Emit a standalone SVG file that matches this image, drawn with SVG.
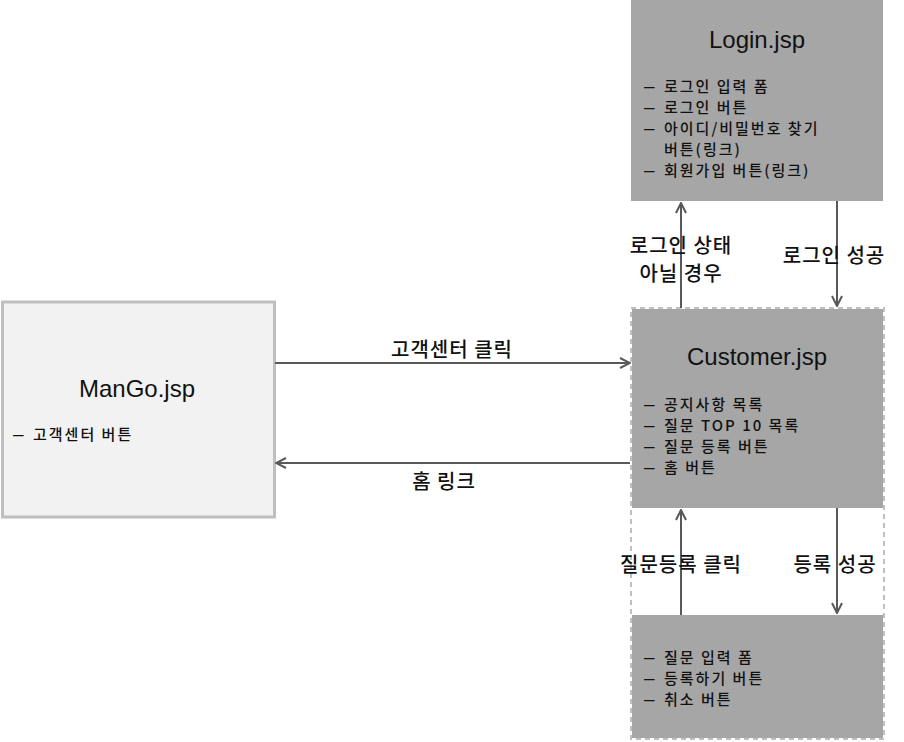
<svg xmlns="http://www.w3.org/2000/svg" width="904" height="742" viewBox="0 0 904 742">
<defs>
<marker id="arr" viewBox="0 0 12 12" refX="11" refY="6" markerWidth="12" markerHeight="12" markerUnits="userSpaceOnUse" orient="auto">
<path d="M1,1 L11,6 L1,11" fill="none" stroke="#595959" stroke-width="2"/>
</marker>
<style>
.box{fill:#a6a6a6;}
.title{font-family:"Liberation Sans","Noto Sans CJK KR",sans-serif;font-size:24px;fill:#111;text-anchor:middle;}
.item{font-family:"Noto Sans CJK KR",sans-serif;font-size:15px;font-weight:500;letter-spacing:2px;fill:#111;}
.d{font-family:"Liberation Sans",sans-serif;font-size:19px;letter-spacing:0;}
.lbl{font-family:"Noto Sans CJK KR",sans-serif;font-size:20px;font-weight:500;letter-spacing:1px;fill:#111;text-anchor:middle;}
.conn{stroke:#595959;stroke-width:2;fill:none;marker-end:url(#arr);}
</style>
</defs>
<rect width="904" height="742" fill="#ffffff"/>
<g id="mango">
<rect x="2.5" y="302" width="272" height="215" fill="#f2f2f2" stroke="#bfbfbf" stroke-width="3"/>
<text class="title" x="137" y="397">ManGo.jsp</text>
<text class="item" y="440"><tspan class="d" x="13">–</tspan><tspan x="33">고객센터 버튼</tspan></text>
</g>
<g id="login">
<rect class="box" x="631" y="-2" width="252" height="203"/>
<text class="title" x="757" y="48">Login.jsp</text>
<text class="item" y="92"><tspan class="d" x="644">–</tspan><tspan x="664">로그인 입력 폼</tspan></text>
<text class="item" y="113"><tspan class="d" x="644">–</tspan><tspan x="664">로그인 버튼</tspan></text>
<text class="item" y="134"><tspan class="d" x="644">–</tspan><tspan x="664">아이디/비밀번호 찾기</tspan></text>
<text class="item" x="664" y="155">버튼(링크)</text>
<text class="item" y="176"><tspan class="d" x="644">–</tspan><tspan x="664">회원가입 버튼(링크)</tspan></text>
</g>
<g id="customer-group">
<rect x="631" y="308" width="253" height="431" fill="#ffffff" stroke="#c0c0c0" stroke-width="2" stroke-dasharray="5,4"/>
</g>
<g id="customer">
<rect class="box" x="632" y="309" width="251" height="199"/>
<text class="title" x="757" y="365">Customer.jsp</text>
<text class="item" y="410"><tspan class="d" x="644">–</tspan><tspan x="664">공지사항 목록</tspan></text>
<text class="item" y="431"><tspan class="d" x="644">–</tspan><tspan x="664">질문 TOP 10 목록</tspan></text>
<text class="item" y="452"><tspan class="d" x="644">–</tspan><tspan x="664">질문 등록 버튼</tspan></text>
<text class="item" y="473"><tspan class="d" x="644">–</tspan><tspan x="664">홈 버튼</tspan></text>
</g>
<g id="question-form">
<rect class="box" x="632" y="615" width="251" height="123"/>
<text class="item" y="663"><tspan class="d" x="644">–</tspan><tspan x="664">질문 입력 폼</tspan></text>
<text class="item" y="684"><tspan class="d" x="644">–</tspan><tspan x="664">등록하기 버튼</tspan></text>
<text class="item" y="705"><tspan class="d" x="644">–</tspan><tspan x="664">취소 버튼</tspan></text>
</g>
<g id="connectors">
<line class="conn" x1="275" y1="363" x2="630" y2="363"/>
<line class="conn" x1="630" y1="463" x2="276" y2="463"/>
<line class="conn" x1="681" y1="308" x2="681" y2="203"/>
<line class="conn" x1="837" y1="201" x2="837" y2="306"/>
<line class="conn" x1="681" y1="615" x2="681" y2="510"/>
<line class="conn" x1="837" y1="508" x2="837" y2="613"/>
<text class="lbl" x="452" y="357">고객센터 클릭</text>
<text class="lbl" x="444" y="489">홈 링크</text>
<text class="lbl" x="681" y="253">로그인 상태</text>
<text class="lbl" x="681" y="281">아닐 경우</text>
<text class="lbl" x="834" y="263">로그인 성공</text>
<text class="lbl" x="681" y="572">질문등록 클릭</text>
<text class="lbl" x="835" y="572">등록 성공</text>
</g>
</svg>
